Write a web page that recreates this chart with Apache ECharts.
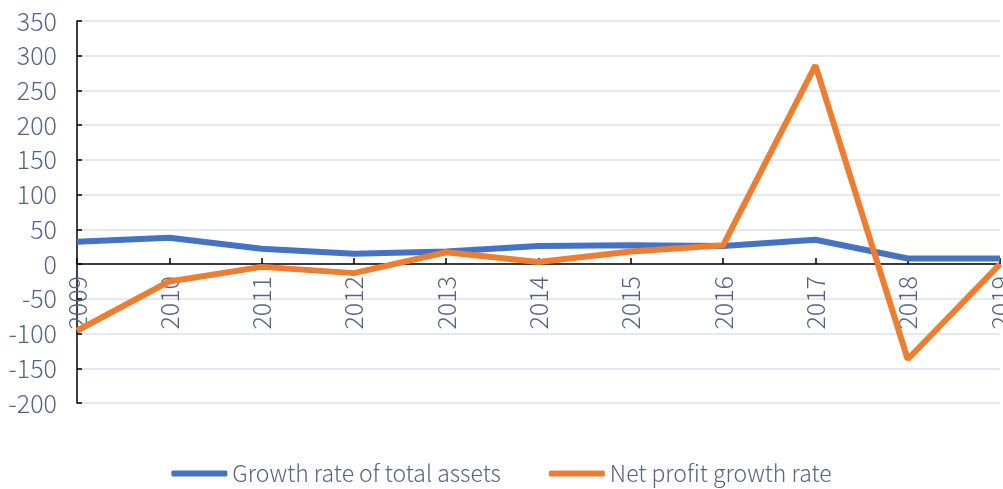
<!DOCTYPE html>
<html>
<head>
<meta charset="utf-8">
<script src="https://cdn.jsdelivr.net/npm/echarts@6/dist/echarts.min.js"></script>
<style>
  html, body { margin: 0; padding: 0; background: #fff; }
  #chart { width: 1003px; height: 489px; }
</style>
</head>
<body>
<div id="chart"></div>
<script>
// years on the x axis
const years = ['2009', '2010', '2011', '2012', '2013', '2014', '2015', '2016', '2017', '2018', '2019']
// values
const totalAssetsGrowth = [32, 38, 22, 15, 18, 26, 27, 26, 35, 8, 8]
const netProfitGrowth = [-96, -25, -4, -13, 17, 3, 18, 27, 286, -137, 0]

const textColor = '#56657F'
const fontFamily = '"Noto Sans CJK SC", "Noto Sans", sans-serif'

const chart = echarts.init(document.getElementById('chart'))

chart.setOption({
  animation: false,
  textStyle: { fontFamily: fontFamily },
  grid: { left: 77, right: 3, top: 21, bottom: 86, outerBoundsMode: 'none' },
  legend: {
    top: 457,
    left: 'center',
    itemWidth: 56,
    itemHeight: 6,
    itemGap: 48,
    icon: 'roundRect',
    textStyle: { color: textColor, fontSize: 23, fontWeight: 300, fontFamily: fontFamily },
    data: ['Growth rate of total assets', 'Net profit growth rate']
  },
  xAxis: {
    type: 'category',
    data: years,
    boundaryGap: false,
    position: 'bottom',
    // move the axis up to the zero line (0 sits 139px above the bottom of the grid)
    offset: -139,
    axisLine: { onZero: false, lineStyle: { color: '#000', width: 1.5 } },
    axisTick: { show: true, inside: true, length: 6, lineStyle: { color: '#000', width: 1.5 } },
    axisLabel: { rotate: 90, color: textColor, fontSize: 25, fontWeight: 300, margin: 12 },
    splitLine: { show: false }
  },
  yAxis: {
    type: 'value',
    min: -200,
    max: 350,
    interval: 50,
    axisLine: { show: true, lineStyle: { color: '#000', width: 1.5 } },
    axisTick: { show: true, inside: true, length: 5, lineStyle: { color: '#000', width: 1.5 } },
    axisLabel: { color: textColor, fontSize: 25, fontWeight: 300, margin: 20 },
    splitLine: { lineStyle: { color: '#DCE1EA', width: 1.5 } }
  },
  series: [
    {
      name: 'Growth rate of total assets',
      type: 'line',
      data: totalAssetsGrowth,
      symbol: 'none',
      lineStyle: { color: '#4472C4', width: 6 },
      itemStyle: { color: '#4472C4' }
    },
    {
      name: 'Net profit growth rate',
      type: 'line',
      data: netProfitGrowth,
      symbol: 'none',
      lineStyle: { color: '#ED7D31', width: 6 },
      itemStyle: { color: '#ED7D31' }
    }
  ]
})
</script>
</body>
</html>
